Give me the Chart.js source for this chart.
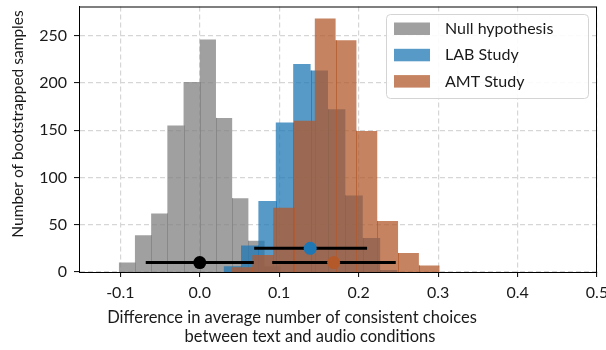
<!DOCTYPE html>
<html>
<head>
<meta charset="utf-8">
<script src="https://cdn.jsdelivr.net/npm/chart.js@4.4.1/dist/chart.umd.min.js"></script>
<style>
  html, body { margin: 0; padding: 0; background: #fff; }
  #wrap { width: 606px; height: 350px; }
</style>
</head>
<body>
<div id="wrap"><canvas id="hist" width="606" height="350"></canvas></div>
<script>
// --- data ---
const seriesNames = ['Null hypothesis', 'LAB Study', 'AMT Study'];

// bin edges (10 bins per histogram) and counts
const nullEdges = [-0.102, -0.0816, -0.0612, -0.0408, -0.0204, 0.0, 0.0204, 0.0408, 0.0612, 0.0816, 0.102];
const nullCounts = [10, 39, 62, 155, 201, 246, 163, 78, 33, 6];

const labEdges = [0.030, 0.0519, 0.0738, 0.0957, 0.1176, 0.1395, 0.1614, 0.1833, 0.2052, 0.2271, 0.249];
const labCounts = [6, 28, 75, 158, 220, 213, 172, 81, 36, 2];

const amtEdges = [0.040, 0.0662, 0.0924, 0.1186, 0.1448, 0.171, 0.1972, 0.2234, 0.2496, 0.2758, 0.302];
const amtCounts = [5, 18, 68, 160, 268, 245, 149, 54, 20, 7];

// mean and interval markers (null, LAB, AMT)
const ciMean = [0.0, 0.139, 0.1685];
const ciLow = [-0.068, 0.0685, 0.0912];
const ciHigh = [0.068, 0.2106, 0.2467];
const ciLevel = [10, 25, 10];

const xTickValues = [-0.1, 0.0, 0.1, 0.2, 0.3, 0.4, 0.5];
const xTickLabels = ['-0.1', '0.0', '0.1', '0.2', '0.3', '0.4', '0.5'];
const yTickValues = [0, 50, 100, 150, 200, 250];

const xTitleLines = ['Difference in average number of consistent choices', 'between text and audio conditions'];
const yTitle = 'Number of bootstrapped samples';

// --- styles ---
const FONT = 'Lato, "Open Sans", sans-serif';
const fillColors = ['rgba(128,128,128,0.75)', 'rgba(31,119,180,0.75)', 'rgba(179,90,44,0.75)'];
const markerColors = ['#000000', '#1f77b4', '#b45a2a'];
const histInputs = [[nullEdges, nullCounts], [labEdges, labCounts], [amtEdges, amtCounts]];

// histogram -> stepped outline points
function stepPoints(edges, counts) {
    const pts = counts.map((c, i) => ({ x: edges[i], y: c }));
    pts.push({ x: edges[edges.length - 1], y: counts[counts.length - 1] });
    return pts;
}

const histSets = histInputs.map(([e, c], i) => ({
    type: 'line',
    label: seriesNames[i],
    data: stepPoints(e, c),
    stepped: 'before',
    fill: 'origin',
    backgroundColor: fillColors[i],
    borderWidth: 0,
    borderColor: 'rgba(0,0,0,0)',
    pointRadius: 0,
    order: 10 - i
}));

const ciLines = ciMean.map((m, i) => ({
    type: 'line',
    label: 'ci' + i,
    data: [{ x: ciLow[i], y: ciLevel[i] }, { x: ciHigh[i], y: ciLevel[i] }],
    borderColor: '#000',
    borderWidth: 3,
    pointRadius: 0,
    fill: false,
    order: 5 - 2 * i
}));

const ciPoints = ciMean.map((m, i) => ({
    type: 'scatter',
    label: 'mean' + i,
    data: [{ x: m, y: ciLevel[i] }],
    backgroundColor: markerColors[i],
    borderColor: markerColors[i],
    borderWidth: 0,
    pointRadius: 6.5,
    order: 4 - 2 * i
}));

// faint seams between neighbouring bins (as matplotlib's antialiased bars leave)
const seamPlugin = {
    id: 'seams',
    afterDatasetDraw(chart, args) {
        const ds = chart.data.datasets[args.index];
        const k = seriesNames.indexOf(ds.label);
        if (k < 0) return;
        const [edges, counts] = histInputs[k];
        const { ctx, scales: { x, y } } = chart;
        ctx.save();
        ctx.strokeStyle = fillColors[k];
        ctx.lineWidth = 1;
        for (let i = 1; i < counts.length; i++) {
            const px = Math.round(x.getPixelForValue(edges[i])) + 0.5;
            ctx.beginPath();
            ctx.moveTo(px, y.getPixelForValue(0));
            ctx.lineTo(px, y.getPixelForValue(Math.min(counts[i - 1], counts[i])));
            ctx.stroke();
        }
        ctx.restore();
    }
};

// frame, axis titles and legend box
const decorPlugin = {
    id: 'decor',
    afterDraw(chart) {
        const { ctx, chartArea: a } = chart;
        ctx.save();
        // full frame (top + right spines)
        ctx.strokeStyle = '#000';
        ctx.lineWidth = 1;
        ctx.strokeRect(a.left + 0.5, a.top + 0.5, a.right - a.left - 1, a.bottom - a.top);

        ctx.fillStyle = '#1a1a1a';
        ctx.font = '16.5px ' + FONT;
        ctx.textBaseline = 'alphabetic';
        ctx.textAlign = 'center';
        ctx.fillText(xTitleLines[0], 292, 323);
        ctx.fillText(xTitleLines[1], 310, 342);

        ctx.save();
        ctx.font = '15.5px ' + FONT;
        ctx.translate(23, 124);
        ctx.rotate(-Math.PI / 2);
        ctx.fillText(yTitle, 0, 0);
        ctx.restore();

        // legend
        const bx = 386.5, by = 14.5, bw = 202, bh = 84, r = 4;
        ctx.beginPath();
        ctx.roundRect(bx, by, bw, bh, r);
        ctx.fillStyle = 'rgba(255,255,255,0.9)';
        ctx.fill();
        ctx.strokeStyle = '#d4d4d4';
        ctx.lineWidth = 1;
        ctx.stroke();
        ctx.textAlign = 'left';
        seriesNames.forEach((name, i) => {
            const ry = 22.5 + i * 26.3;
            ctx.fillStyle = fillColors[i];
            ctx.fillRect(394, ry, 36, 12.5);
            ctx.fillStyle = '#1a1a1a';
            ctx.font = '16px ' + FONT;
            ctx.fillText(name, 445, ry + 11.5);
        });
        ctx.restore();
    }
};

new Chart(document.getElementById('hist'), {
    data: { datasets: [...ciPoints, ...ciLines, ...histSets] },
    options: {
        responsive: false,
        devicePixelRatio: 1,
        animation: false,
        layout: { padding: { top: 5, right: 9, left: 0, bottom: 0 } },
        plugins: {
            legend: { display: false },
            tooltip: { enabled: false }
        },
        scales: {
            x: {
                type: 'linear',
                min: -0.152,
                max: 0.5,
                afterBuildTicks: s => { s.ticks = xTickValues.map(v => ({ value: v })); },
                afterFit: s => { s.height = 78; s.paddingLeft = 0; s.paddingRight = 0; },
                ticks: {
                    color: '#1a1a1a',
                    font: { family: FONT, size: 16 },
                    padding: 6,
                    maxRotation: 0,
                    callback: v => xTickLabels[xTickValues.findIndex(t => Math.abs(t - v) < 1e-9)]
                },
                grid: {
                    color: '#d6d6d6',
                    lineWidth: 1.2,
                    tickColor: '#000',
                    tickLength: 5,
                    tickWidth: 1
                },
                border: { display: true, color: '#000', width: 1, dash: [5, 3] }
            },
            y: {
                type: 'linear',
                min: 0,
                max: 280.8,
                afterBuildTicks: s => { s.ticks = yTickValues.map(v => ({ value: v })); },
                afterFit: s => { s.width = 79; s.paddingTop = 0; s.paddingBottom = 0; },
                ticks: {
                    color: '#1a1a1a',
                    font: { family: FONT, size: 16 },
                    padding: 7
                },
                grid: {
                    color: '#d6d6d6',
                    lineWidth: 1.2,
                    tickColor: '#000',
                    tickLength: 5,
                    tickWidth: 1
                },
                border: { display: true, color: '#000', width: 1, dash: [5, 3] }
            }
        }
    },
    plugins: [seamPlugin, decorPlugin]
});
</script>
</body>
</html>
